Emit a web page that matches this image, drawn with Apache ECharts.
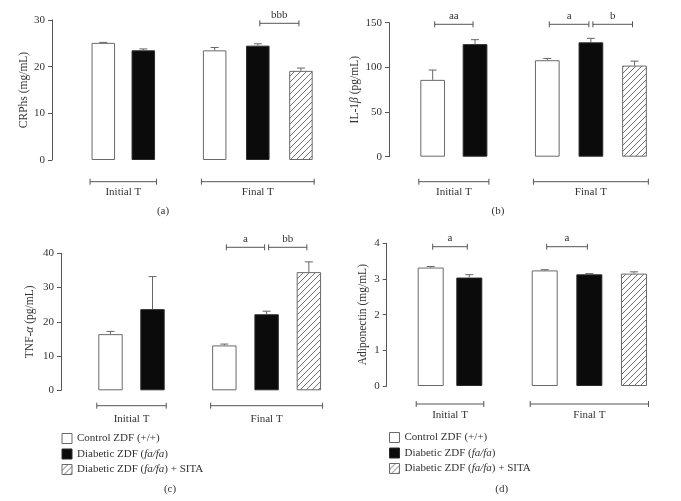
<!DOCTYPE html>
<html>
<head>
<meta charset="utf-8">
<script src="https://cdn.jsdelivr.net/npm/echarts@6/dist/echarts.min.js"></script>
<style>html,body{margin:0;padding:0;background:#fff}#c{width:681px;height:501px}</style>
</head>
<body>
<div id="c"></div>
<script>
// ---------------- DATA ----------------
const seriesNames = ['Control ZDF (+/+)', 'Diabetic ZDF (fa/fa)', 'Diabetic ZDF (fa/fa) + SITA'];
const groupLabels = ['Initial T', 'Final T'];
// values per series: [Initial T, Final T]
const crpControl = [25.1, 23.5],   crpControlErr = [0.1, 0.6];
const crpDiabetic = [23.5, 24.5],  crpDiabeticErr = [0.3, 0.4];
const crpSita = [null, 19.1],      crpSitaErr = [null, 0.6];
const crpSig = [[1, 1, 2, 'bbb']];           // [group, fromSeries, toSeries, label]

const il1Control = [86, 108],      il1ControlErr = [11, 2];
const il1Diabetic = [126, 128],    il1DiabeticErr = [5, 4.5];
const il1Sita = [null, 102],       il1SitaErr = [null, 5];
const il1Sig = [[0, 0, 1, 'aa'], [1, 0, 1, 'a'], [1, 1, 2, 'b']];

const tnfControl = [16.4, 13.1],   tnfControlErr = [0.8, 0.4];
const tnfDiabetic = [23.7, 22.2],  tnfDiabeticErr = [9.5, 0.9];
const tnfSita = [null, 34.5],      tnfSitaErr = [null, 3.0];
const tnfSig = [[1, 0, 1, 'a'], [1, 1, 2, 'bb']];

const adiControl = [3.32, 3.24],   adiControlErr = [0.03, 0.02];
const adiDiabetic = [3.04, 3.13],  adiDiabeticErr = [0.08, 0.02];
const adiSita = [null, 3.15],      adiSitaErr = [null, 0.05];
const adiSig = [[0, 0, 1, 'a'], [1, 0, 1, 'a']];

// ---------------- STYLE / LAYOUT ----------------
const FONT = 'Liberation Serif';
const TXT = '#333';
const AX = '#555';
const LN = '#666';

function hatch() {
  const s = 6, c = document.createElement('canvas');
  c.width = s; c.height = s;
  const g = c.getContext('2d');
  g.fillStyle = '#fff'; g.fillRect(0, 0, s, s);
  g.strokeStyle = '#707070'; g.lineWidth = 1;
  g.beginPath();
  g.moveTo(0, s); g.lineTo(s, 0);
  g.moveTo(-1, 1); g.lineTo(1, -1);
  g.moveTo(s - 1, s + 1); g.lineTo(s + 1, s - 1);
  g.stroke();
  return c;
}
const barStyles = [
  { color: '#fff', borderColor: '#6a6a6a', borderWidth: 1 },
  { color: '#0b0b0b', borderColor: '#2a2a2a', borderWidth: 1 },
  { color: { image: hatch(), repeat: 'repeat' }, borderColor: '#6a6a6a', borderWidth: 1 }
];

const panels = [
  { letter: '(a)', yName: 'CRPhs (mg/mL)', min: 0, max: 30, interval: 10,
    values: [crpControl, crpDiabetic, crpSita], errs: [crpControlErr, crpDiabeticErr, crpSitaErr], sig: crpSig,
    L: { top: 20, height: 140, grids: [[83.3, 80], [193.1, 129.4]], bw: 23.5, yOff: 31.3, nameGap: 22,
         sigY: 3.3, groupY: 21.7, groupGap: 5, letterXY: [163, 211] } },
  { letter: '(b)', yName: 'IL-1{i|β} (pg/mL)', min: 0, max: 150, interval: 50,
    values: [il1Control, il1Diabetic, il1Sita], errs: [il1ControlErr, il1DiabeticErr, il1SitaErr], sig: il1Sig,
    L: { top: 22.7, height: 134, grids: [[411.5, 84.7], [525.5, 130.8]], bw: 24.7, yOff: 22.5, nameGap: 28,
         sigY: 1.6, groupY: 25, groupGap: 5, letterXY: [498, 211] } },
  { letter: '(c)', yName: 'TNF-{i|α} (pg/mL)', min: 0, max: 40, interval: 10,
    values: [tnfControl, tnfDiabetic, tnfSita], errs: [tnfControlErr, tnfDiabeticErr, tnfSitaErr], sig: tnfSig,
    L: { top: 253.3, height: 137, grids: [[89.5, 84], [203.2, 126.8]], bw: 24.4, yOff: 28.5, nameGap: 25,
         sigY: -6, groupY: 15.4, groupGap: 8, letterXY: [170, 489], legend: [61.5, 433] } },
  { letter: '(d)', yName: 'Adiponectin (mg/mL)', min: 0, max: 4, interval: 1,
    values: [adiControl, adiDiabetic, adiSita], errs: [adiControlErr, adiDiabeticErr, adiSitaErr], sig: adiSig,
    L: { top: 243.3, height: 142.7, grids: [[411.4, 77.2], [522.4, 133.9]], bw: 26, yOff: 24.7, nameGap: 18,
         sigY: 3.4, groupY: 18, groupGap: 5.5, letterXY: [501.7, 489], legend: [389, 432] } }
];

const grid = [], xAxis = [], yAxis = [], series = [], legend = [], graphic = [];
const txt = (size, extra) => Object.assign({ fontFamily: FONT, fontSize: size, color: TXT }, extra || {});

panels.forEach((p, k) => {
  const L = p.L;
  [0, 1].forEach(g => {
    const gi = k * 2 + g;
    const cats = seriesNames.filter((n, s) => p.values[s][g] != null);
    const nCat = cats.length;
    grid.push({ left: L.grids[g][0], width: L.grids[g][1], top: L.top, height: L.height });
    xAxis.push({ type: 'category', gridIndex: gi, data: cats, show: false, boundaryGap: true });
    yAxis.push({
      type: 'value', gridIndex: gi, min: p.min, max: p.max, interval: p.interval, show: g === 0,
      offset: L.yOff, position: 'left',
      axisLine: { show: true, lineStyle: { color: AX, width: 1 } },
      axisTick: { show: true, length: 4, lineStyle: { color: AX } },
      splitLine: { show: false },
      axisLabel: txt(11, { margin: 7 }),
      name: p.yName, nameLocation: 'middle', nameGap: L.nameGap,
      nameTextStyle: txt(11.5, { rich: { i: txt(11.5, { fontStyle: 'italic' }) } })
    });
    // bars
    p.values.forEach((vals, s) => {
      if (vals[g] == null) return;
      const data = cats.map((c, ci) => ci === s ? vals[g] : '-');
      series.push({
        name: seriesNames[s], type: 'bar', xAxisIndex: gi, yAxisIndex: gi, data,
        barWidth: L.bw, barGap: '-100%', itemStyle: barStyles[s], silent: true, z: 2
      });
    });
    // error bars
    const errData = [];
    p.values.forEach((vals, s) => {
      if (vals[g] != null) errData.push([s, vals[g], p.errs[s][g]]);
    });
    series.push({
      type: 'custom', xAxisIndex: gi, yAxisIndex: gi, data: errData, silent: true, clip: false, z: 3,
      renderItem: (params, api) => {
        const x = api.value(0), v = api.value(1), e = api.value(2);
        const p0 = api.coord([x, v]), p1 = api.coord([x, v + e]);
        const cw = 4;
        return { type: 'group', children: [
          { type: 'line', shape: { x1: p0[0], y1: p0[1], x2: p1[0], y2: p1[1] }, style: { stroke: LN, lineWidth: 1 } },
          { type: 'line', shape: { x1: p1[0] - cw, y1: p1[1], x2: p1[0] + cw, y2: p1[1] }, style: { stroke: LN, lineWidth: 1 } }
        ] };
      }
    });
    // group bracket + label
    series.push({
      type: 'custom', xAxisIndex: gi, yAxisIndex: gi, data: [[0, 0]], silent: true, clip: false, z: 3,
      renderItem: (params, api) => {
        const cs = params.coordSys;
        const x1 = api.coord([0, 0])[0] - L.bw / 2 - 1.5;
        const x2 = api.coord([nCat - 1, 0])[0] + L.bw / 2 + 1.5;
        const y = cs.y + cs.height + L.groupY;
        const st = { stroke: AX, lineWidth: 1 };
        return { type: 'group', children: [
          { type: 'line', shape: { x1, y1: y, x2, y2: y }, style: st },
          { type: 'line', shape: { x1, y1: y - 3, x2: x1, y2: y + 3 }, style: st },
          { type: 'line', shape: { x1: x2, y1: y - 3, x2, y2: y + 3 }, style: st },
          { type: 'text', style: { x: (x1 + x2) / 2, y: y + L.groupGap, text: groupLabels[g], align: 'center', verticalAlign: 'top',
              fill: TXT, font: '11px "' + FONT + '"' } }
        ] };
      }
    });
    // significance brackets
    const sigs = p.sig.filter(d => d[0] === g);
    if (sigs.length) {
      series.push({
        type: 'custom', xAxisIndex: gi, yAxisIndex: gi, data: sigs.map(d => [d[1], d[2]]), silent: true, clip: false, z: 3,
        renderItem: (params, api) => {
          const d = sigs[params.dataIndex];
          const cs = params.coordSys;
          const x1 = api.coord([d[1], 0])[0] + 2, x2 = api.coord([d[2], 0])[0] - 2;
          const y = cs.y + L.sigY;
          const st = { stroke: AX, lineWidth: 1 };
          return { type: 'group', children: [
            { type: 'line', shape: { x1, y1: y, x2, y2: y }, style: st },
            { type: 'line', shape: { x1, y1: y - 3, x2: x1, y2: y + 3 }, style: st },
            { type: 'line', shape: { x1: x2, y1: y - 3, x2, y2: y + 3 }, style: st },
            { type: 'text', style: { x: (x1 + x2) / 2, y: y - 3, text: d[3], align: 'center', verticalAlign: 'bottom',
                fill: TXT, font: '11px "' + FONT + '"' } }
          ] };
        }
      });
    }
  });
  graphic.push({ type: 'text', x: L.letterXY[0], y: L.letterXY[1],
    style: { text: p.letter, align: 'center', verticalAlign: 'middle', fill: TXT, font: '11px "' + FONT + '"' } });
  if (L.legend) {
    legend.push({
      data: seriesNames, orient: 'vertical', left: L.legend[0], top: L.legend[1], padding: 0,
      itemWidth: 10, itemHeight: 10, itemGap: 4.5, icon: 'rect', selectedMode: false,
      itemStyle: { borderWidth: 1 },
      formatter: n => n.replace('fa/fa', '{i|fa/fa}'),
      textStyle: txt(11, { rich: { i: txt(11, { fontStyle: 'italic' }) } })
    });
  }
});

const chart = echarts.init(document.getElementById('c'), null, { renderer: 'canvas' });
chart.setOption({ animation: false, backgroundColor: '#fff', grid, xAxis, yAxis, series, legend, graphic });
</script>
</body>
</html>
